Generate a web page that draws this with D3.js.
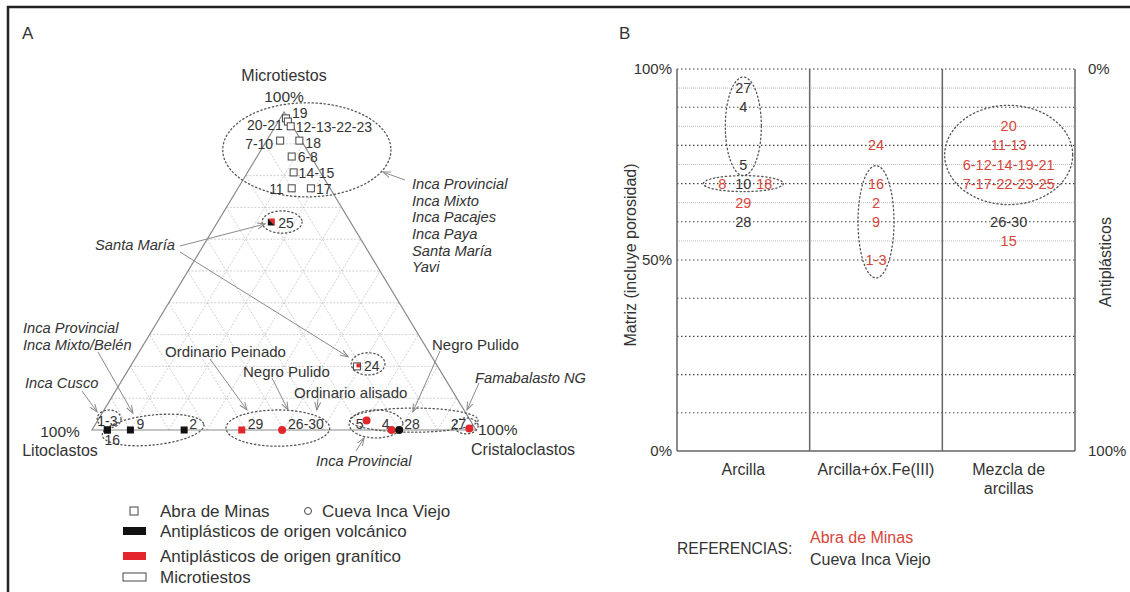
<!DOCTYPE html>
<html>
<head>
<meta charset="utf-8">
<script src="https://cdn.jsdelivr.net/npm/d3@7"></script>
<style>
body { margin: 0; background: #fff; }
text { font-family: "Liberation Sans", Arial, sans-serif; fill: #333; }
</style>
</head>
<body>
<div id="canvas"></div>
<script>
// ---------- data: panel A (ternary) ----------
var triLabels  = ["19", "20-21", "12-13-22-23", "7-10", "18", "6-8", "14-15", "11", "17", "25", "24",
                  "1-3", "16", "9", "2", "29", "26-30", "5", "4", "28", "27"];
var triMicro   = [98, 97, 95.5, 91, 91, 86, 81, 76, 76, 65.4, 20, 0, 0, 0, 0, 0, 0, 3, 0, 0, 0.5];
var triCrista  = [1.5, 2.5, 4, 3.5, 8.5, 9, 12, 14, 19, 14, 59, 4, 4, 10, 24, 39, 49.5, 70, 78, 80, 98];
var triSite    = ["AM", "AM", "AM", "AM", "AM", "AM", "AM", "AM", "AM", "AM", "AM",
                  "AM", "AM", "AM", "AM", "AM", "CIV", "CIV", "CIV", "CIV", "CIV"];
var triOrigin  = ["micro", "micro", "micro", "micro", "micro", "micro", "micro", "micro", "micro", "mixto", "micro-gran",
                  "volc", "volc", "volc", "volc", "gran", "gran", "gran", "gran", "volc", "gran"];

// dotted rings (centre as composition, radii in % units)
var ringMicro  = [88.1, 65.4, 20.8, 3.5, 0, 0.6, 1.9, 3.1, 1.3];
var ringCrista = [11.9, 16.8, 61.5, 2.7, 15.9, 48.1, 73.0, 82.3, 96.8];
var ringRx     = [21.9, 5.2, 4.4, 3.1, 13.3, 13.5, 7.0, 16.7, 3.1];
var ringRy     = [14.8, 3.5, 3.5, 2.8, 4.7, 5.7, 4.4, 3.8, 2.5];
var ringRot    = [0, 0, 0, 0, -6, 0, 0, 0, 0];

// ---------- data: panel B ----------
var categories = ["Arcilla", "Arcilla+óx.Fe(III)", "Mezcla de arcillas"];
var bLabels   = ["27", "4", "5", "8", "10", "18", "29", "28",
                 "24", "16", "2", "9", "1-3",
                 "20", "11-13", "6-12-14-19-21", "7-17-22-23-25", "26-30", "15"];
var bCategory = [0, 0, 0, 0, 0, 0, 0, 0, 1, 1, 1, 1, 1, 2, 2, 2, 2, 2, 2];
var bMatrix   = [95, 90, 75, 70, 70, 70, 65, 60, 80, 70, 65, 60, 50, 85, 80, 75, 70, 60, 55];
var bSite     = ["CIV", "CIV", "CIV", "AM", "CIV", "AM", "AM", "CIV",
                 "AM", "AM", "AM", "AM", "AM",
                 "AM", "AM", "AM", "AM", "CIV", "AM"];
var bGroups   = [["27", "4", "5"], ["8", "10", "18"], ["16", "2", "9", "1-3"],
                 ["20", "11-13", "6-12-14-19-21", "7-17-22-23-25"]];
var yTicksMajor = [0, 10, 20, 30, 40, 50, 60, 70, 80, 90, 100];
var yTicksMinor = [55, 65, 75, 85, 95];

var RED = "#e3262b", RED_TXT = "#d8463b", GREY = "#8a8a8a";

var w = 1130, h = 592;
var svg = d3.select("#canvas").append("svg")
    .attr("width", w).attr("height", h)
    .style("display", "block");

var defs = svg.append("defs");
defs.append("marker")
    .attr("id", "arrow")
    .attr("markerUnits", "userSpaceOnUse")
    .attr("markerWidth", 10).attr("markerHeight", 8)
    .attr("refX", 8).attr("refY", 3.5)
    .attr("orient", "auto")
    .append("path")
    .attr("d", "M0,0.5 L8,3.5 L0,6.5")
    .attr("fill", "none").attr("stroke", GREY).attr("stroke-width", 1);

// frame
svg.append("path")
    .attr("d", "M8,592 V7 H1130")
    .attr("fill", "none").attr("stroke", "#222").attr("stroke-width", 2.5);

svg.append("text").attr("x", 22).attr("y", 39).style("font-size", "17px").text("A");
svg.append("text").attr("x", 619).attr("y", 39).style("font-size", "17px").text("B");

// ================= PANEL A =================
var tx = d3.scaleLinear().domain([0, 100]).range([92, 476]);
var ty = d3.scaleLinear().domain([0, 100]).range([430, 112]);
function proj(M, C) { return [tx(C + M / 2), ty(M)]; }

var gA = svg.append("g");

// grid
var gridLines = [];
d3.range(10, 100, 10).forEach(function(k) {
    gridLines.push([proj(k, 0), proj(k, 100 - k)]);
    gridLines.push([proj(0, k), proj(100 - k, k)]);
    gridLines.push([proj(0, 100 - k), proj(100 - k, 0)]);
});
gA.selectAll("line.grid")
    .data(gridLines)
    .join("line")
    .attr("class", "grid")
    .attr("x1", d => d[0][0]).attr("y1", d => d[0][1])
    .attr("x2", d => d[1][0]).attr("y2", d => d[1][1])
    .attr("stroke", "#c4c4c4").attr("stroke-width", 0.8)
    .attr("stroke-dasharray", "2,1.5");

// triangle outline
var tri = [proj(100, 0), proj(0, 0), proj(0, 100)];
gA.append("path")
    .attr("d", d3.line()(tri) + "Z")
    .attr("fill", "none").attr("stroke", GREY).attr("stroke-width", 1.2);

// rings
ringMicro.forEach(function(m, i) {
    var c = proj(m, ringCrista[i]);
    var rx = tx(ringRx[i]) - tx(0);
    var ry = ty(0) - ty(ringRy[i]);
    gA.append("ellipse")
        .attr("cx", c[0]).attr("cy", c[1])
        .attr("rx", rx).attr("ry", ry)
        .attr("transform", "rotate(" + ringRot[i] + "," + c[0] + "," + c[1] + ")")
        .attr("fill", "none").attr("stroke", "#555").attr("stroke-width", 1.3)
        .attr("stroke-dasharray", "1.3,2.7").attr("stroke-linecap", "round");
});

// annotations: text + arrows (arrow target as composition)
var annotations = [
    {lines: ["Inca Provincial", "Inca Mixto", "Inca Pacajes", "Inca Paya", "Santa María", "Yavi"], italic: true,
     x: 412, y: 184, lh: 16.6, anchor: "start", arrows: [[405, 180, 81.1, 35.2]]},
    {lines: ["Santa María"], italic: true, x: 95, y: 245, lh: 0, anchor: "start",
     arrows: [[180, 246, 64.8, 12.7], [180, 252, 23, 55.2]]},
    {lines: ["Inca Provincial", "Inca Mixto/Belén"], italic: true, x: 23, y: 328, lh: 16.5, anchor: "start",
     arrows: [[98, 352, 5.3, 8.0]]},
    {lines: ["Inca Cusco"], italic: true, x: 25, y: 383, lh: 0, anchor: "start", arrows: [[82, 391, 5.7, -1.55]]},
    {lines: ["Ordinario Peinado"], italic: false, x: 165, y: 352, lh: 0, anchor: "start", arrows: [[210, 359, 6.3, 37.2]]},
    {lines: ["Negro Pulido"], italic: false, x: 243, y: 372, lh: 0, anchor: "start", arrows: [[272, 378, 6.3, 47.9]]},
    {lines: ["Ordinario alisado"], italic: false, x: 294, y: 393, lh: 0, anchor: "start", arrows: [[318, 399, 6.3, 55.4]]},
    {lines: ["Negro Pulido"], italic: false, x: 432, y: 345, lh: 0, anchor: "start", arrows: [[440, 351, 5.7, 80.7]]},
    {lines: ["Famabalasto NG"], italic: true, x: 475, y: 378, lh: 0, anchor: "start", arrows: [[479, 383, 6.3, 94.5]]},
    {lines: ["Inca Provincial"], italic: true, x: 316, y: 461, lh: 0, anchor: "start", arrows: [[356, 451, -2.5, 72.1]]}
];
annotations.forEach(function(a) {
    a.arrows.forEach(function(ar) {
        var t = proj(ar[2], ar[3]);
        gA.append("line")
            .attr("x1", ar[0]).attr("y1", ar[1])
            .attr("x2", t[0]).attr("y2", t[1])
            .attr("stroke", GREY).attr("stroke-width", 1)
            .attr("marker-end", "url(#arrow)");
    });
    a.lines.forEach(function(s, j) {
        gA.append("text")
            .attr("x", a.x).attr("y", a.y + j * a.lh).attr("dy", "0.35em")
            .attr("text-anchor", a.anchor)
            .style("font-size", a.italic ? "14.7px" : "15px")
            .style("font-style", a.italic ? "italic" : "normal")
            .text(s);
    });
});

// markers
var triData = triLabels.map(function(l, i) {
    var p = proj(triMicro[i], triCrista[i]);
    return {label: l, x: p[0], y: p[1], site: triSite[i], origin: triOrigin[i]};
});
var s = 7;
triData.forEach(function(d) {
    if (d.site === "CIV") {
        gA.append("circle").attr("cx", d.x).attr("cy", d.y).attr("r", 4)
            .attr("fill", d.origin === "volc" ? "#111" : RED);
    } else if (d.origin === "micro") {
        gA.append("rect").attr("x", d.x - s / 2).attr("y", d.y - s / 2).attr("width", s).attr("height", s)
            .attr("fill", "#fff").attr("stroke", "#444").attr("stroke-width", 1);
    } else if (d.origin === "mixto") {
        var x0 = d.x - s / 2, y0 = d.y - s / 2;
        gA.append("path").attr("d", `M${x0},${y0} L${x0 + s},${y0} L${x0 + s},${y0 + s} Z`).attr("fill", RED);
        gA.append("path").attr("d", `M${x0},${y0} L${x0},${y0 + s} L${x0 + s},${y0 + s} Z`).attr("fill", "#111");
    } else if (d.origin === "micro-gran") {
        gA.append("rect").attr("x", d.x - s / 2).attr("y", d.y - s / 2).attr("width", s).attr("height", s)
            .attr("fill", "#fff").attr("stroke", "#444").attr("stroke-width", 1);
        gA.append("rect").attr("x", d.x - 0.5).attr("y", d.y - s / 2 + 0.5).attr("width", 3.5).attr("height", 4)
            .attr("fill", RED);
    } else {
        gA.append("rect").attr("x", d.x - s / 2).attr("y", d.y - s / 2).attr("width", s).attr("height", s)
            .attr("fill", d.origin === "volc" ? "#111" : RED);
    }
});

// point labels
var triLabelPos = {
    "19": [6, -5, "start"], "20-21": [-5, 4, "end"], "12-13-22-23": [5, 1, "start"],
    "7-10": [-7, 3, "end"], "18": [6, 2, "start"], "6-8": [6, 1, "start"], "14-15": [5, 1, "start"],
    "11": [-8, 1, "end"], "17": [5, 1, "start"], "25": [7, 1, "start"], "24": [7, 0, "start"],
    "1-3": [0, -9, "middle"], "16": [5, 10, "middle"], "9": [6, -6, "start"], "2": [5, -6, "start"],
    "29": [6, -6, "start"], "26-30": [6, -6, "start"], "5": [-3, 4, "end"], "4": [-2, -6, "end"],
    "28": [5, -6, "start"], "27": [-3, -4, "end"]
};
gA.selectAll("text.pt")
    .data(triData)
    .join("text")
    .attr("class", "pt")
    .attr("x", d => d.x + triLabelPos[d.label][0])
    .attr("y", d => d.y + triLabelPos[d.label][1])
    .attr("dy", "0.35em")
    .attr("text-anchor", d => triLabelPos[d.label][2])
    .style("font-size", "14px")
    .text(d => d.label);

// vertex titles
var apex = proj(100, 0), lv = proj(0, 0), rv = proj(0, 100);
gA.append("text").attr("x", apex[0]).attr("y", 75).attr("dy", "0.35em").attr("text-anchor", "middle")
    .style("font-size", "16px").text("Microtiestos");
gA.append("text").attr("x", apex[0]).attr("y", 97).attr("dy", "0.35em").attr("text-anchor", "middle")
    .style("font-size", "15.5px").text("100%");
gA.append("text").attr("x", 60).attr("y", lv[1] + 2).attr("dy", "0.35em").attr("text-anchor", "middle")
    .style("font-size", "15.5px").text("100%");
gA.append("text").attr("x", 60).attr("y", lv[1] + 20).attr("dy", "0.35em").attr("text-anchor", "middle")
    .style("font-size", "16px").text("Litoclastos");
gA.append("text").attr("x", rv[0] + 2).attr("y", rv[1]).attr("dy", "0.35em")
    .style("font-size", "15.5px").text("100%");
gA.append("text").attr("x", rv[0] - 5).attr("y", rv[1] + 19).attr("dy", "0.35em")
    .style("font-size", "16px").text("Cristaloclastos");

// legend
var lg = svg.append("g").style("font-size", "17px");
lg.append("rect").attr("x", 130).attr("y", 507).attr("width", 8).attr("height", 8)
    .attr("fill", "#fff").attr("stroke", "#444");
lg.append("text").attr("x", 160).attr("y", 511).attr("dy", "0.35em").text("Abra de Minas");
lg.append("circle").attr("cx", 308).attr("cy", 511).attr("r", 3.5)
    .attr("fill", "#fff").attr("stroke", "#444");
lg.append("text").attr("x", 322).attr("y", 511).attr("dy", "0.35em").text("Cueva Inca Viejo");
var legendRows = [
    {label: "Antiplásticos de origen volcánico", fill: "#111", stroke: "none", y: 531},
    {label: "Antiplásticos de origen granítico", fill: RED, stroke: "none", y: 556},
    {label: "Microtiestos", fill: "#fff", stroke: "#444", y: 577}
];
legendRows.forEach(function(r) {
    lg.append("rect").attr("x", 123).attr("y", r.y - 4).attr("width", 23).attr("height", 8)
        .attr("fill", r.fill).attr("stroke", r.stroke);
    lg.append("text").attr("x", 160).attr("y", r.y).attr("dy", "0.35em").text(r.label);
});

// ================= PANEL B =================
var bx = d3.scaleBand().domain(d3.range(categories.length)).range([677, 1075]).padding(0);
var by = d3.scaleLinear().domain([0, 100]).range([451, 69]);
var gB = svg.append("g");

// grid lines
gB.selectAll("line.minor")
    .data(yTicksMinor)
    .join("line")
    .attr("x1", 677).attr("x2", 1075)
    .attr("y1", d => by(d)).attr("y2", d => by(d))
    .attr("stroke", "#aaa").attr("stroke-width", 0.8).attr("stroke-dasharray", "1,1");
gB.selectAll("line.major")
    .data(yTicksMajor.filter(d => d > 0))
    .join("line")
    .attr("x1", 677).attr("x2", 1075)
    .attr("y1", d => by(d)).attr("y2", d => by(d))
    .attr("stroke", "#444").attr("stroke-width", 1.1).attr("stroke-dasharray", "1.5,2.5");

// frame lines: left, right, bottom, dividers
var xEdges = d3.range(categories.length + 1).map(i => i < categories.length ? bx(i) : bx(i - 1) + bx.bandwidth());
gB.selectAll("line.vdiv")
    .data(xEdges)
    .join("line")
    .attr("x1", d => d).attr("x2", d => d)
    .attr("y1", by(100)).attr("y2", by(0))
    .attr("stroke", "#666").attr("stroke-width", 1.5);
gB.append("line").attr("x1", 677).attr("x2", 1075).attr("y1", by(0)).attr("y2", by(0))
    .attr("stroke", "#666").attr("stroke-width", 1.5);

// axis labels
[[100, "100%"], [50, "50%"], [0, "0%"]].forEach(function(t) {
    gB.append("text").attr("x", 672).attr("y", by(t[0])).attr("dy", "0.35em")
        .attr("text-anchor", "end").style("font-size", "15px").text(t[1]);
});
[[100, "0%"], [0, "100%"]].forEach(function(t) {
    gB.append("text").attr("x", 1088).attr("y", by(t[0])).attr("dy", "0.35em")
        .style("font-size", "15px").text(t[1]);
});
gB.append("text").attr("transform", "translate(630,255) rotate(-90)")
    .attr("dy", "0.35em").attr("text-anchor", "middle").style("font-size", "16px")
    .text("Matriz (incluye porosidad)");
gB.append("text").attr("transform", "translate(1105,262) rotate(-90)")
    .attr("dy", "0.35em").attr("text-anchor", "middle").style("font-size", "16px")
    .text("Antiplásticos");

// category labels (wrapped)
categories.forEach(function(c, i) {
    var words = c === "Mezcla de arcillas" ? ["Mezcla de", "arcillas"] : [c];
    words.forEach(function(wd, j) {
        gB.append("text").attr("x", bx(i) + bx.bandwidth() / 2).attr("y", 469 + j * 19)
            .attr("dy", "0.35em").attr("text-anchor", "middle").style("font-size", "16px").text(wd);
    });
});

// data labels (same row labels spread horizontally)
var bData = bLabels.map(function(l, i) {
    return {label: l, cat: bCategory[i], v: bMatrix[i], site: bSite[i]};
});
bData.forEach(function(d) {
    var row = bData.filter(e => e.cat === d.cat && e.v === d.v);
    var k = row.indexOf(d);
    d.x = bx(d.cat) + bx.bandwidth() / 2 + (k - (row.length - 1) / 2) * 21;
    d.y = by(d.v);
});
gB.selectAll("text.bl")
    .data(bData)
    .join("text")
    .attr("class", "bl")
    .attr("x", d => d.x).attr("y", d => d.y)
    .attr("dy", "0.35em").attr("text-anchor", "middle")
    .style("font-size", "14.5px")
    .style("fill", d => d.site === "AM" ? RED_TXT : "#333")
    .text(d => d.label);

// group rings: [rx px, vertical padding px]
var bRingSize = [[18, 11], [40, 8], [18, 18], [64, 21]];
bGroups.forEach(function(g, i) {
    var members = bData.filter(d => g.indexOf(d.label) >= 0);
    var y0 = d3.min(members, d => d.y), y1 = d3.max(members, d => d.y);
    var cx = d3.mean(members, d => d.x);
    gB.append("ellipse")
        .attr("cx", cx).attr("cy", (y0 + y1) / 2)
        .attr("rx", bRingSize[i][0]).attr("ry", (y1 - y0) / 2 + bRingSize[i][1])
        .attr("fill", "none").attr("stroke", "#555").attr("stroke-width", 1.3)
        .attr("stroke-dasharray", "1.3,2.7").attr("stroke-linecap", "round");
});

// references
gB.append("text").attr("x", 677).attr("y", 549).attr("dy", "0.35em").style("font-size", "15.6px").text("REFERENCIAS:");
gB.append("text").attr("x", 810).attr("y", 537).attr("dy", "0.35em").style("font-size", "16px")
    .style("fill", RED_TXT).text("Abra de Minas");
gB.append("text").attr("x", 810).attr("y", 559).attr("dy", "0.35em").style("font-size", "16px").text("Cueva Inca Viejo");
</script>
</body>
</html>
